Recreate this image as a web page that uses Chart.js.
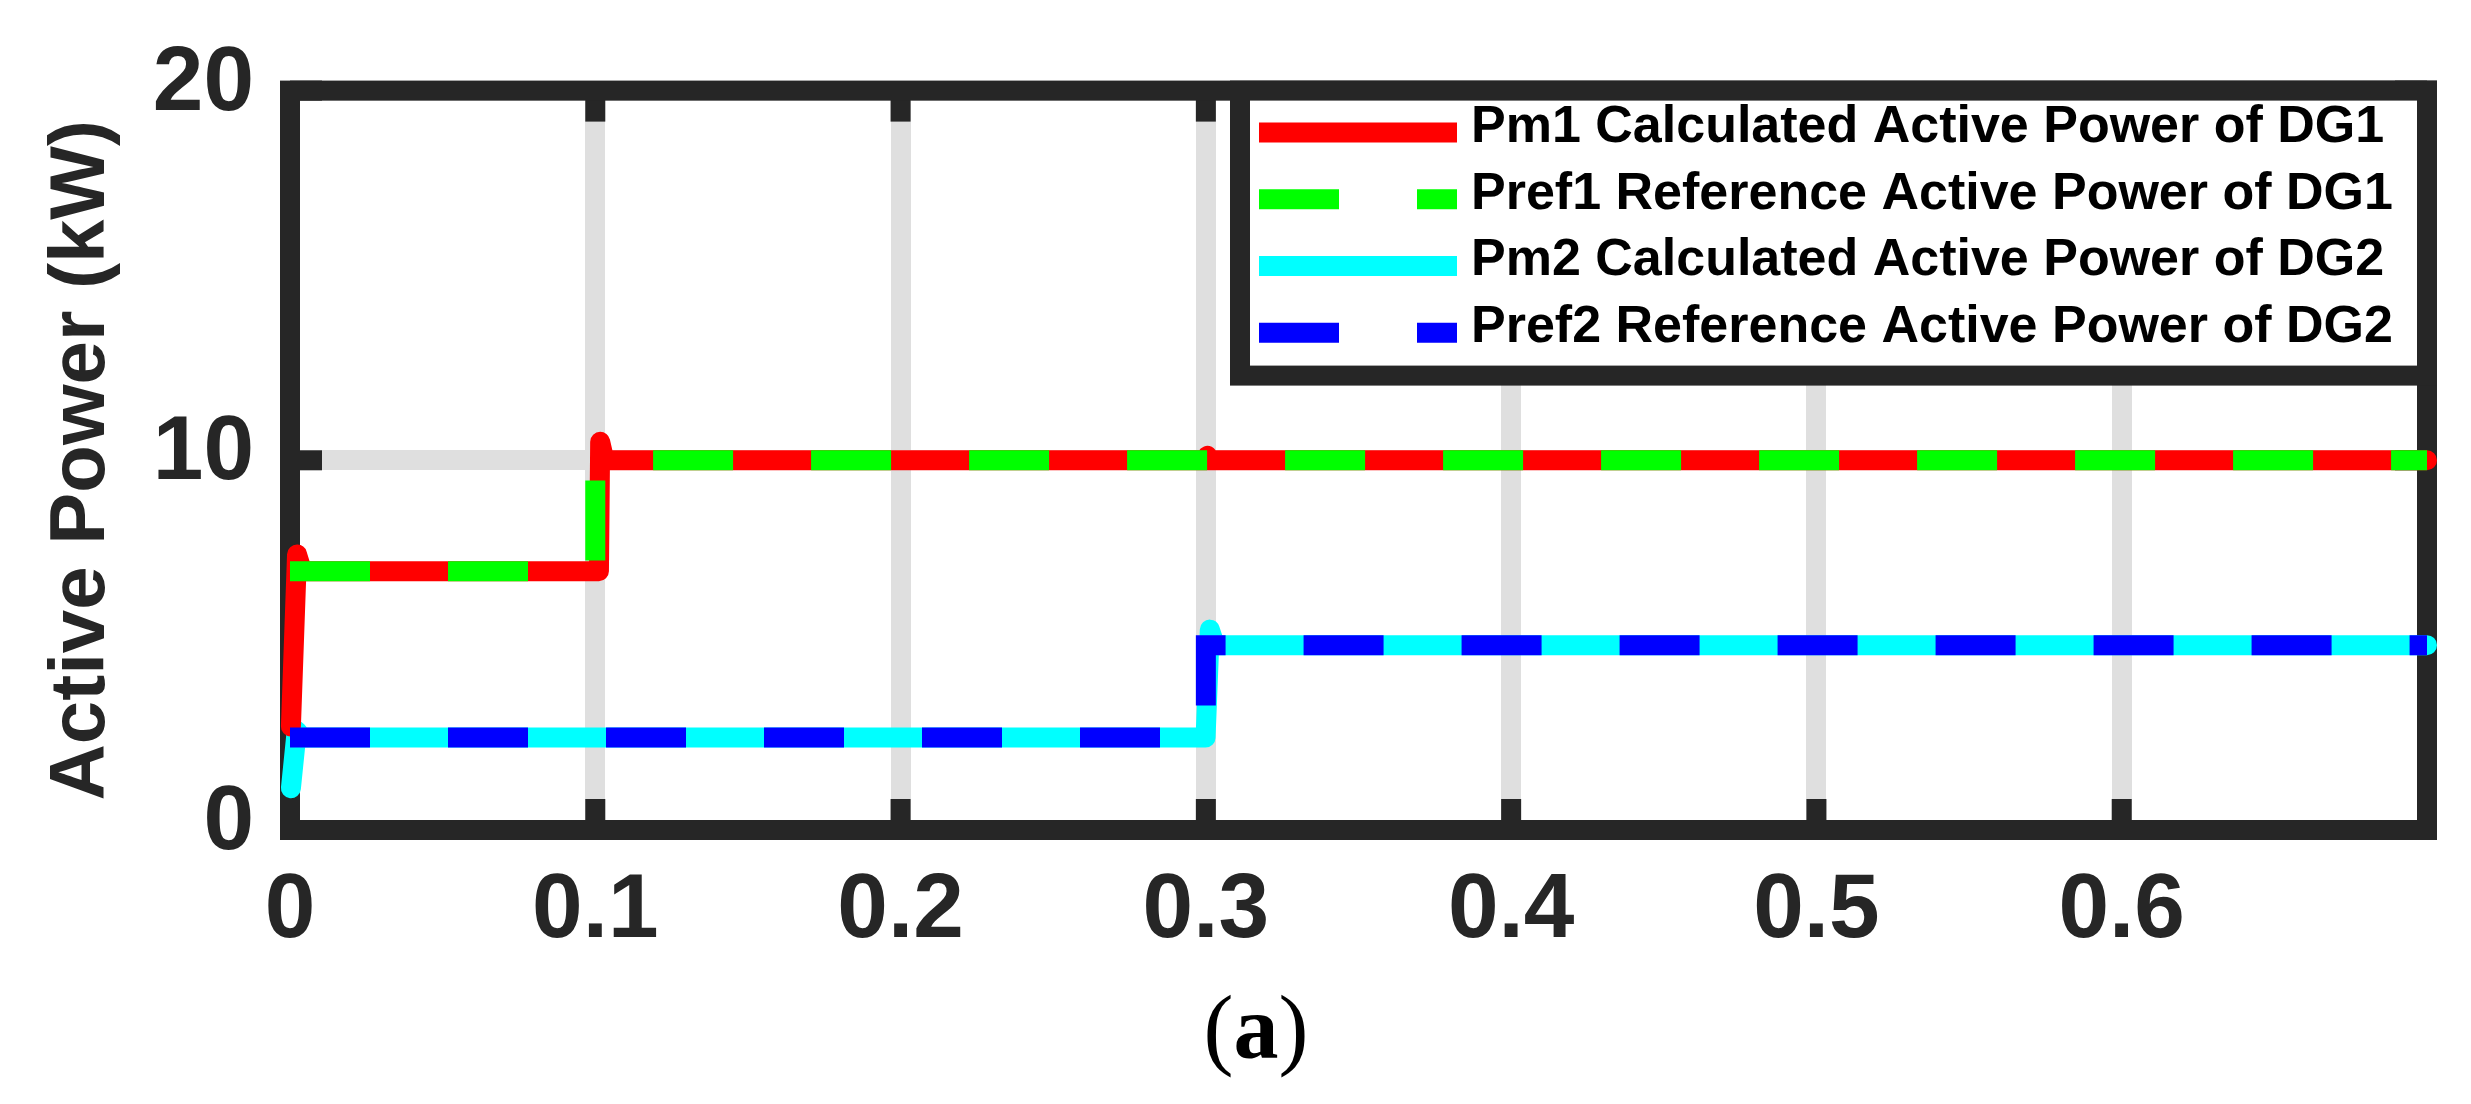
<!DOCTYPE html>
<html>
<head>
<meta charset="utf-8">
<title>Active Power</title>
<script src="https://cdn.jsdelivr.net/npm/chart.js@4.4.1/dist/chart.umd.min.js"></script>
<style>
  html, body { margin: 0; padding: 0; background: #fff; }
  canvas { display: block; }
</style>
</head>
<body>
<canvas id="grafico" width="2471" height="1104"></canvas>
<script>
// valores (tempo em s, potência em kW)
const legendas = [
  "Pm1 Calculated Active Power of DG1",
  "Pref1 Reference Active Power of DG1",
  "Pm2 Calculated Active Power of DG2",
  "Pref2 Reference Active Power of DG2",
];
const tempoPm1 = [0.0003, 0.0023, 0.004, 0.1012, 0.1016, 0.103, 0.2998, 0.3005, 0.3015, 0.7];
const potPm1 = [2.8, 7.45, 7.0, 7.0, 10.5, 10.0, 10.0, 10.12, 10.0, 10.0];
const tempoPref1 = [0, 0.1, 0.1, 0.7];
const potPref1 = [7, 7, 10, 10];
const tempoPm2 = [0.0003, 0.0022, 0.004, 0.2999, 0.3013, 0.303, 0.7];
const potPm2 = [1.13, 2.68, 2.5, 2.5, 5.42, 5.0, 5.0];
const tempoPref2 = [0, 0.3, 0.3, 0.7];
const potPref2 = [2.5, 2.5, 5, 5];
const ticksX = [0, 0.1, 0.2, 0.3, 0.4, 0.5, 0.6];
const ticksY = [0, 10, 20];

const COR_EIXO = "#262626";
const COR_GRADE = "#dfdfdf";
const FONTE = '"Liberation Sans", Arial, Helvetica, sans-serif';

function pontos(ts, ps) {
  return ts.map((t, i) => ({ x: t, y: ps[i] }));
}

const solida = { borderWidth: 20, borderCapStyle: "round", borderJoinStyle: "round", pointRadius: 0, tension: 0, clip: false, order: 2 };
const tracejada = { borderWidth: 20, borderDash: [80, 78], borderCapStyle: "butt", borderJoinStyle: "miter", pointRadius: 0, tension: 0, clip: false, order: 1 };

// moldura, ticks para dentro, legenda e legenda (a)
const moldura = {
  id: "moldura",
  beforeDatasetsDraw(chart) {
    const { ctx, chartArea: a, scales } = chart;
    ctx.save();
    ctx.fillStyle = COR_EIXO;
    scales.x.ticks.forEach((t) => {
      const px = scales.x.getPixelForValue(t.value);
      ctx.fillRect(px - 10, a.bottom - 31, 20, 31);
      ctx.fillRect(px - 10, a.top, 20, 31);
    });
    scales.y.ticks.forEach((t) => {
      const py = scales.y.getPixelForValue(t.value);
      ctx.fillRect(a.left, py - 10, 32, 20);
      ctx.fillRect(a.right - 32, py - 10, 32, 20);
    });
    ctx.strokeStyle = COR_EIXO;
    ctx.lineWidth = 20;
    ctx.strokeRect(a.left, a.top, a.right - a.left, a.bottom - a.top);
    ctx.restore();
  },
  afterDatasetsDraw(chart) {
    const { ctx, chartArea: a } = chart;
    const caixa = { left: a.right - 1187, top: a.top, w: 1187, h: 285 };
    ctx.save();
    ctx.fillStyle = "#fff";
    ctx.fillRect(caixa.left, caixa.top, caixa.w, caixa.h);
    ctx.strokeStyle = COR_EIXO;
    ctx.lineWidth = 20;
    ctx.strokeRect(caixa.left, caixa.top, caixa.w, caixa.h);
    chart.data.datasets.forEach((ds, i) => {
      const y = caixa.top + 42 + i * 66.7;
      ctx.strokeStyle = ds.borderColor;
      ctx.lineWidth = 20;
      ctx.lineCap = "butt";
      ctx.setLineDash(ds.borderDash || []);
      ctx.beginPath();
      ctx.moveTo(caixa.left + 19, y);
      ctx.lineTo(caixa.left + 217, y);
      ctx.stroke();
      ctx.setLineDash([]);
      ctx.fillStyle = "#000";
      ctx.font = "bold 52px " + FONTE;
      ctx.textAlign = "left";
      ctx.textBaseline = "middle";
      ctx.fillText(ds.label, caixa.left + 231, y - 5);
    });
    ctx.restore();
  },
  afterDraw(chart) {
    const ctx = chart.ctx;
    const normal = '90px "Liberation Serif", "Times New Roman", serif';
    const negrito = 'bold 90px "Liberation Serif", "Times New Roman", serif';
    ctx.save();
    ctx.fillStyle = "#000";
    ctx.textBaseline = "alphabetic";
    ctx.textAlign = "left";
    ctx.font = normal;
    const w1 = ctx.measureText("(").width;
    const w3 = ctx.measureText(")").width;
    ctx.font = negrito;
    const w2 = ctx.measureText("a").width;
    let x = 1256 - (w1 + w2 + w3) / 2;
    const y = 1058;
    ctx.font = normal;
    ctx.fillText("(", x, y);
    x += w1;
    ctx.font = negrito;
    ctx.fillText("a", x, y);
    x += w2;
    ctx.font = normal;
    ctx.fillText(")", x, y);
    ctx.restore();
  },
};

const ctx = document.getElementById("grafico").getContext("2d");

let grafico = new Chart(ctx, {
  type: "line",
  data: {
    datasets: [
      Object.assign({ label: legendas[0], data: pontos(tempoPm1, potPm1), borderColor: "#ff0000" }, solida),
      Object.assign({ label: legendas[1], data: pontos(tempoPref1, potPref1), borderColor: "#00ff00" }, tracejada),
      Object.assign({ label: legendas[2], data: pontos(tempoPm2, potPm2), borderColor: "#00ffff" }, solida),
      Object.assign({ label: legendas[3], data: pontos(tempoPref2, potPref2), borderColor: "#0000ff" }, tracejada),
    ],
  },
  options: {
    responsive: false,
    animation: false,
    devicePixelRatio: 1,
    layout: { padding: { top: 85, right: 44, left: 0, bottom: 0 } },
    plugins: {
      legend: { display: false },
      tooltip: { enabled: false },
    },
    scales: {
      x: {
        type: "linear",
        min: 0,
        max: 0.7,
        afterBuildTicks: (s) => { s.ticks = ticksX.map((v) => ({ value: v })); },
        afterFit: (s) => { s.height = 274; },
        grid: { color: COR_GRADE, lineWidth: 20, drawTicks: false },
        border: { display: false },
        ticks: {
          padding: 27,
          color: COR_EIXO,
          autoSkip: false,
          maxRotation: 0,
          font: { family: FONTE, size: 91, weight: "bold" },
          callback: (v) => String(v),
        },
      },
      y: {
        type: "linear",
        min: 0,
        max: 20,
        afterBuildTicks: (s) => { s.ticks = ticksY.map((v) => ({ value: v })); },
        afterFit: (s) => { s.width = 290; },
        grid: { color: COR_GRADE, lineWidth: 20, drawTicks: false },
        border: { display: false },
        ticks: {
          padding: 36,
          labelOffset: -6,
          color: COR_EIXO,
          font: { family: FONTE, size: 91, weight: "bold" },
          callback: (v) => String(v),
        },
        title: {
          display: true,
          text: "Active Power (kW)",
          color: COR_EIXO,
          font: { family: FONTE, size: 78, weight: "bold" },
          padding: { top: 36, bottom: 0 },
        },
      },
    },
  },
  plugins: [moldura],
});
</script>
</body>
</html>
